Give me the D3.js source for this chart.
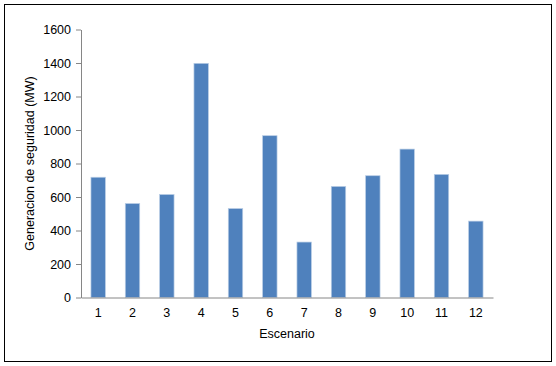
<!DOCTYPE html>
<html>
<head>
<meta charset="utf-8">
<script src="https://cdn.jsdelivr.net/npm/d3@7"></script>
<style>
  body { margin: 0; background: #fff; }
  text { font-family: "Liberation Sans", Arial, sans-serif; }
</style>
</head>
<body>
<svg width="556" height="366"></svg>
<script>
const escenarios = ['1', '2', '3', '4', '5', '6', '7', '8', '9', '10', '11', '12']
const generacion = [718, 561, 615, 1398, 531, 966, 331, 663, 727, 886, 735, 456]
const yTicks = [0, 200, 400, 600, 800, 1000, 1200, 1400, 1600]

const svg = d3.select('svg')
const w = +svg.attr('width'), h = +svg.attr('height')

// outer frame
svg.append('rect')
    .attr('x', 4.5).attr('y', 4.5)
    .attr('width', 547).attr('height', 357)
    .attr('fill', 'none')
    .attr('stroke', '#000')
    .attr('stroke-width', 1)

const plotL = 81, plotR = 493, plotT = 29.5, plotB = 297.5

const x = d3.scaleBand()
    .domain(escenarios)
    .range([plotL, plotR])
    .paddingInner(0.58)
    .paddingOuter(0.29)

const y = d3.scaleLinear()
    .domain([0, 1600])
    .range([plotB, plotT])

svg.selectAll('rect.bar')
    .data(escenarios.map((e, i) => ({ e, v: generacion[i] })))
    .enter()
    .append('rect')
    .attr('class', 'bar')
    .attr('x', d => x(d.e))
    .attr('y', d => y(d.v))
    .attr('width', x.bandwidth())
    .attr('height', d => plotB - y(d.v))
    .attr('fill', '#4F81BD')
    .attr('stroke', '#B9CDE5')
    .attr('stroke-width', 0.7)

// y axis
const yAxis = svg.append('g')
    .attr('transform', `translate(${plotL},0)`)
    .call(d3.axisLeft(y).tickValues(yTicks).tickFormat(d3.format('d'))
        .tickSize(5).tickPadding(5).tickSizeOuter(0))
yAxis.select('.domain').attr('stroke', '#868686')
yAxis.selectAll('.tick line').attr('stroke', '#868686')
yAxis.selectAll('.tick text')
    .attr('font-size', 12.5)
    .attr('fill', '#000')
    .attr('font-family', '"Liberation Sans", Arial, sans-serif')

// x axis
const xAxis = svg.append('g')
    .attr('transform', `translate(0,${plotB})`)
    .call(d3.axisBottom(x).tickSize(0).tickPadding(11).tickSizeOuter(0))
xAxis.select('.domain').attr('stroke', '#868686')
xAxis.selectAll('.tick text')
    .attr('font-size', 12.5)
    .attr('fill', '#000')
    .attr('font-family', '"Liberation Sans", Arial, sans-serif')

svg.append('text')
    .attr('x', (plotL + plotR) / 2)
    .attr('y', 338)
    .attr('text-anchor', 'middle')
    .attr('font-size', 12.5)
    .text('Escenario')

svg.append('text')
    .attr('transform', `translate(34,${(plotT + plotB) / 2}) rotate(-90)`)
    .attr('text-anchor', 'middle')
    .attr('font-size', 12.5)
    .text('Generacion de seguridad (MW)')
</script>
</body>
</html>
